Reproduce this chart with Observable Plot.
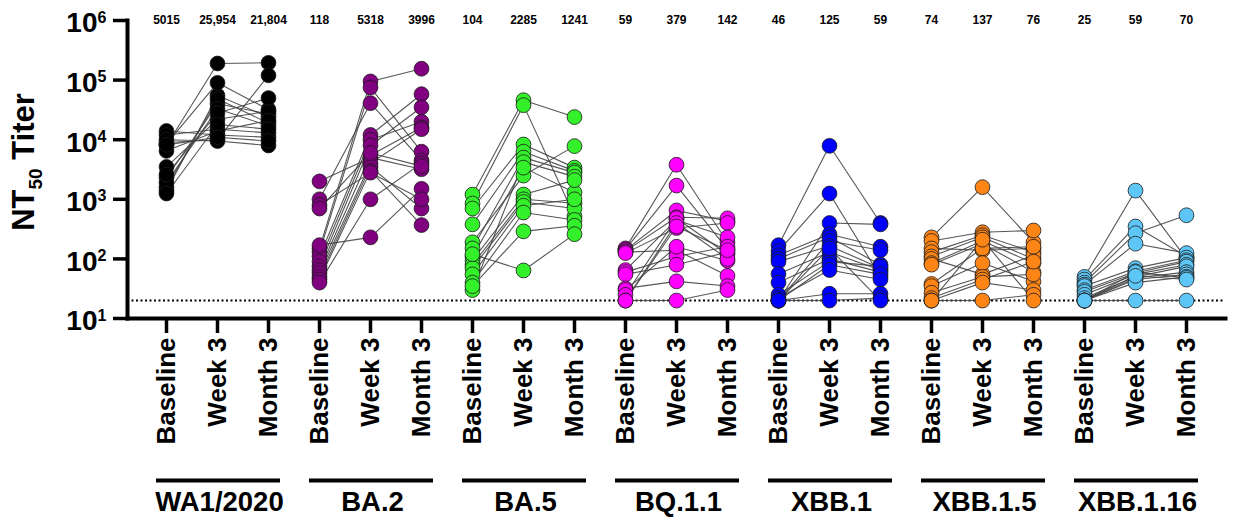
<!DOCTYPE html>
<html>
<head>
<meta charset="utf-8">
<script src="https://cdn.jsdelivr.net/npm/d3@7"></script>
<script src="https://cdn.jsdelivr.net/npm/@observablehq/plot@0.6"></script>
<style>
  html, body { margin: 0; padding: 0; background: #fff; }
</style>
</head>
<body>
<div id="chart"></div>
<script>
const variants = ["WA1/2020", "BA.2", "BA.5", "BQ.1.1", "XBB.1", "XBB.1.5", "XBB.1.16"];
const timepoints = ["Baseline", "Week 3", "Month 3"];
const colors = ["#000000", "#800080", "#33f02a", "#ff00ff", "#0000ff", "#fd8516", "#5ec6f6"];
const gmtLabels = [
  ["5015", "25,954", "21,804"],
  ["118", "5318", "3996"],
  ["104", "2285", "1241"],
  ["59", "379", "142"],
  ["46", "125", "59"],
  ["74", "137", "76"],
  ["25", "59", "70"]
];
const yTicks = [10, 100, 1000, 10000, 100000, 1000000];
const yExponents = ["1", "2", "3", "4", "5", "6"];
const limitOfDetection = 20;

// Each row: one subject, [Baseline, Week 3, Month 3]
const wa1 = [
  [8000, 190000, 195000], [14000, 12000, 11000], [1400, 55000, 24000],
  [9000, 10000, 120000], [2300, 40000, 27000], [12000, 15000, 13000],
  [1600, 48000, 19000], [8500, 90000, 32000], [3500, 22000, 30000],
  [10000, 9500, 8000], [1900, 33000, 17000], [6500, 14000, 21000],
  [2600, 28000, 50000], [1250, 18000, 15000], [8200, 11000, 9500]
];
const ba2 = [
  [150, 95000, 155000], [130, 75000, 6300], [2000, 5000, 3200],
  [1000, 41000, 4500], [110, 12000, 58000], [90, 10000, 20000],
  [75, 8000, 35000], [65, 5500, 16000], [58, 4000, 15000],
  [50, 3500, 700], [45, 3000, 370], [40, 1000, 4000],
  [170, 230, 1500], [800, 2800, 1000], [700, 6000, 3600]
];
const ba5 = [
  [1200, 46000, 24000], [850, 38000, 520], [700, 8300, 3400],
  [380, 6300, 3000], [190, 2500, 7800], [150, 5000, 2800],
  [30, 4200, 2400], [110, 3400, 1300], [95, 1200, 2100],
  [80, 1000, 860], [70, 900, 700], [55, 780, 1000],
  [40, 600, 450], [35, 290, 360], [120, 64, 260]
];
const bq11 = [
  [150, 3800, 190], [145, 1700, 145], [140, 650, 430],
  [135, 500, 480], [130, 140, 52], [125, 330, 400],
  [65, 450, 230], [60, 110, 160], [55, 80, 130],
  [32, 42, 35], [30, 160, 93], [25, 480, 120],
  [20, 400, 100], [20, 350, 140], [20, 20, 30]
];
const xbb1 = [
  [170, 7900, 400], [135, 1250, 50], [20, 400, 380],
  [115, 260, 160], [100, 230, 80], [20, 200, 140],
  [90, 165, 70], [56, 130, 65], [40, 100, 60],
  [25, 90, 75], [20, 80, 55], [22, 65, 45],
  [20, 26, 26], [20, 20, 22], [20, 150, 20]
];
const xbb15 = [
  [230, 1600, 190], [200, 280, 300], [150, 140, 150],
  [130, 250, 130], [110, 230, 100], [100, 55, 115],
  [85, 200, 85], [80, 180, 60], [38, 150, 160],
  [35, 85, 42], [27, 50, 55], [22, 45, 90],
  [20, 40, 30], [20, 20, 25], [20, 210, 20]
];
const xbb116 = [
  [50, 1400, 100], [45, 350, 110], [40, 270, 540],
  [37, 180, 125], [35, 70, 105], [30, 62, 95],
  [28, 58, 90], [25, 55, 80], [22, 50, 75],
  [20, 48, 60], [20, 45, 55], [20, 40, 50],
  [20, 20, 20], [20, 60, 48], [20, 52, 45]
];
const groups = [wa1, ba2, ba5, bq11, xbb1, xbb15, xbb116];

const key = (v, t) => v + "|" + t;
const xDomain = variants.flatMap(v => timepoints.map(t => key(v, t)));

const rows = variants.flatMap((v, g) =>
  groups[g].flatMap((s, i) =>
    s.map((val, t) => ({variant: v, key: key(v, timepoints[t]), value: val, sid: v + "-" + i}))
  )
);
const gmtRows = variants.flatMap((v, g) =>
  timepoints.map((t, j) => ({key: key(v, t), label: gmtLabels[g][j]}))
);
const tickRows = yTicks.map((d, i) => ({value: d, exp: yExponents[i]}));

const plot = Plot.plot({
  width: 1233,
  height: 519,
  marginLeft: 127,
  marginRight: 8,
  marginTop: 20,
  marginBottom: 201,
  style: {fontFamily: "'Liberation Sans', Arial, sans-serif", fontWeight: "bold", background: "#fff", color: "#000"},
  x: {type: "point", domain: xDomain, padding: 0.69, axis: null},
  y: {type: "log", domain: [10, 1e6], axis: null},
  color: {domain: variants, range: colors},
  marks: [
    Plot.ruleY([limitOfDetection], {stroke: "#000", strokeWidth: 2, strokeDasharray: "2,2.5"}),
    Plot.line(rows, {x: "key", y: "value", z: "sid", stroke: "#444", strokeWidth: 1.1, strokeOpacity: 0.9}),
    Plot.dot(rows, {x: "key", y: "value", r: 7.4, fill: "variant", stroke: "#1a1a1a", strokeWidth: 0.8}),
    Plot.text(gmtRows, {x: "key", y: () => 1e6, text: "label", fontSize: 12}),
    Plot.axisY({ticks: yTicks, tickSize: 14, tickFormat: () => "", strokeWidth: 3.5, label: null}),
    Plot.text(tickRows, {y: "value", frameAnchor: "left", text: () => "10", textAnchor: "end", dx: -30, dy: 3, fontSize: 28}),
    Plot.text(tickRows, {y: "value", frameAnchor: "left", text: "exp", textAnchor: "start", dx: -30, dy: -3, fontSize: 16}),
    Plot.frame({anchor: "left", strokeWidth: 4, strokeLinecap: "square"}),
    Plot.frame({anchor: "bottom", strokeWidth: 4, strokeLinecap: "square"}),
    Plot.axisX({
      tickSize: 15, tickPadding: 4, tickRotate: -90, strokeWidth: 3.5,
      tickFormat: d => d.split("|")[1], fontSize: 26, label: null
    }),
    Plot.ruleY(variants, {
      y: () => 10, x1: v => key(v, "Baseline"), x2: v => key(v, "Month 3"),
      dy: 162, strokeWidth: 4, insetLeft: -10, insetRight: -12, stroke: "#000"
    }),
    Plot.text(variants, {x: v => key(v, "Week 3"), y: () => 10, text: d => d, dy: 184, dx: 2, fontSize: 27.5})
  ]
});

const yl = d3.select(plot).append("text")
  .attr("transform", "translate(34,162) rotate(-90)")
  .attr("text-anchor", "middle")
  .attr("font-size", 31)
  .attr("font-weight", "bold")
  .attr("fill", "#000");
yl.append("tspan").text("NT");
yl.append("tspan").attr("font-size", 19).attr("dy", 8).text("50");
yl.append("tspan").attr("dy", -8).text(" Titer");

document.getElementById("chart").appendChild(plot);
</script>
</body>
</html>
